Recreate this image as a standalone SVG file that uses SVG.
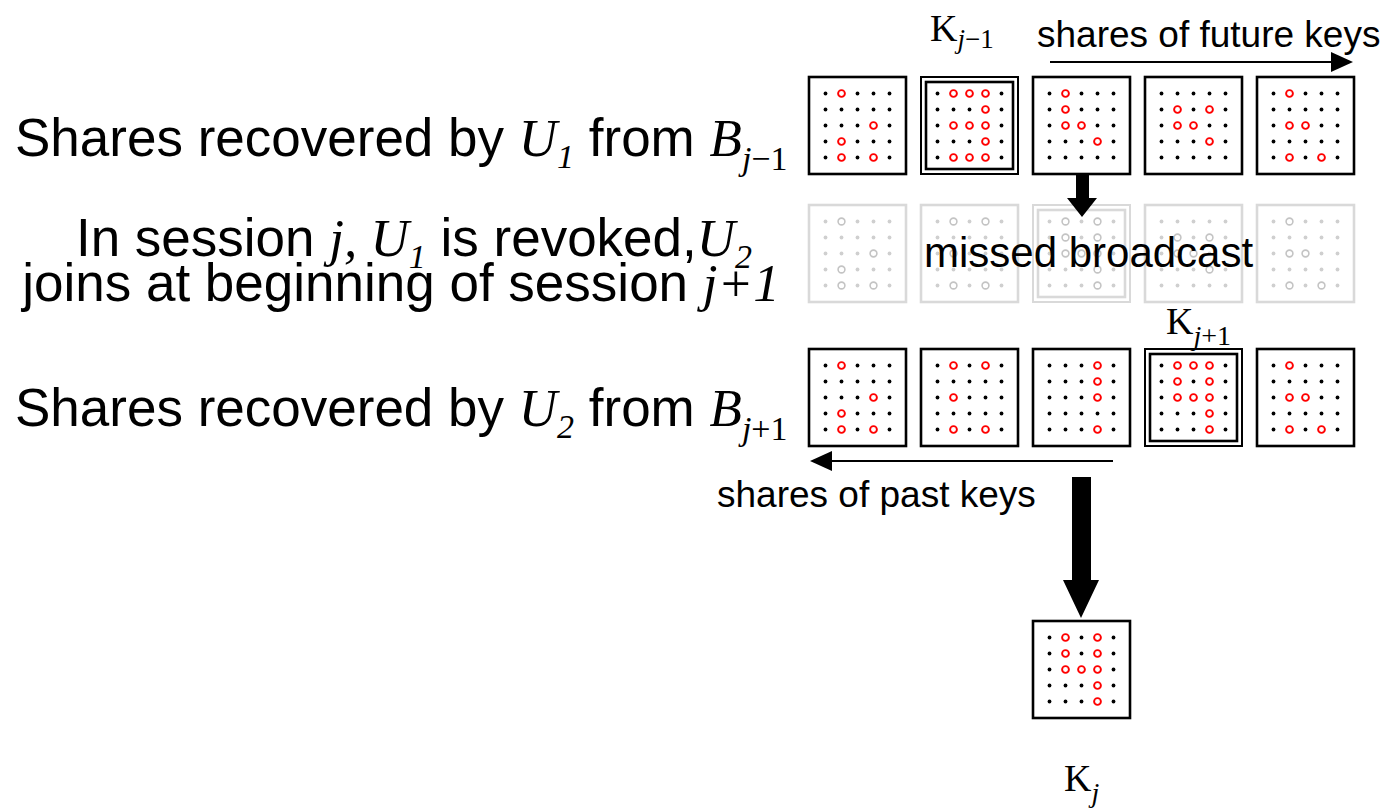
<svg xmlns="http://www.w3.org/2000/svg" xmlns:xlink="http://www.w3.org/1999/xlink" width="1385" height="808" viewBox="0 0 1385 808">
<style>
  .bg{fill:#fff}
  .box{fill:#fff;stroke:#000;stroke-width:2.6}
  .box2{fill:none;stroke:#000;stroke-width:2}
  .gbox{fill:#fff;stroke:#d9d9d9;stroke-width:2.6}
  .gbox2{fill:none;stroke:#d9d9d9;stroke-width:2}
  .rc{fill:#fff;stroke:#f00;stroke-width:1.9}
  .gc{fill:#fff;stroke:#c4c4c4;stroke-width:1.6}
  .sans{font-family:"Liberation Sans",Arial,sans-serif;fill:#000}
  .ser{font-family:"Liberation Serif","Times New Roman",serif}
  .it{font-style:italic}
  .line{stroke:#000;stroke-width:2;fill:none}
</style>
<defs>
  <g id="dots">
    <circle cx="16.5" cy="16.5" r="1.9"/><circle cx="32.5" cy="16.5" r="1.9"/><circle cx="48.5" cy="16.5" r="1.9"/><circle cx="64.5" cy="16.5" r="1.9"/><circle cx="80.5" cy="16.5" r="1.9"/>
    <circle cx="16.5" cy="32.5" r="1.9"/><circle cx="32.5" cy="32.5" r="1.9"/><circle cx="48.5" cy="32.5" r="1.9"/><circle cx="64.5" cy="32.5" r="1.9"/><circle cx="80.5" cy="32.5" r="1.9"/>
    <circle cx="16.5" cy="48.5" r="1.9"/><circle cx="32.5" cy="48.5" r="1.9"/><circle cx="48.5" cy="48.5" r="1.9"/><circle cx="64.5" cy="48.5" r="1.9"/><circle cx="80.5" cy="48.5" r="1.9"/>
    <circle cx="16.5" cy="64.5" r="1.9"/><circle cx="32.5" cy="64.5" r="1.9"/><circle cx="48.5" cy="64.5" r="1.9"/><circle cx="64.5" cy="64.5" r="1.9"/><circle cx="80.5" cy="64.5" r="1.9"/>
    <circle cx="16.5" cy="80.5" r="1.9"/><circle cx="32.5" cy="80.5" r="1.9"/><circle cx="48.5" cy="80.5" r="1.9"/><circle cx="64.5" cy="80.5" r="1.9"/><circle cx="80.5" cy="80.5" r="1.9"/>
  </g>
  <!-- share patterns: hollow circles mark recovered shares -->
  <g id="pA"><circle cx="32.5" cy="16.5" r="3.4"/><circle cx="64.5" cy="48.5" r="3.4"/><circle cx="32.5" cy="64.5" r="3.4"/><circle cx="32.5" cy="80.5" r="3.4"/><circle cx="64.5" cy="80.5" r="3.4"/></g>
  <g id="pKj1"><circle cx="32.5" cy="16.5" r="3.4"/><circle cx="48.5" cy="16.5" r="3.4"/><circle cx="64.5" cy="16.5" r="3.4"/><circle cx="64.5" cy="32.5" r="3.4"/><circle cx="32.5" cy="48.5" r="3.4"/><circle cx="48.5" cy="48.5" r="3.4"/><circle cx="64.5" cy="48.5" r="3.4"/><circle cx="64.5" cy="64.5" r="3.4"/><circle cx="32.5" cy="80.5" r="3.4"/><circle cx="48.5" cy="80.5" r="3.4"/><circle cx="64.5" cy="80.5" r="3.4"/></g>
  <g id="pC"><circle cx="32.5" cy="16.5" r="3.4"/><circle cx="32.5" cy="32.5" r="3.4"/><circle cx="32.5" cy="48.5" r="3.4"/><circle cx="48.5" cy="48.5" r="3.4"/><circle cx="64.5" cy="64.5" r="3.4"/></g>
  <g id="pD"><circle cx="32.5" cy="32.5" r="3.4"/><circle cx="64.5" cy="32.5" r="3.4"/><circle cx="32.5" cy="48.5" r="3.4"/><circle cx="48.5" cy="48.5" r="3.4"/><circle cx="64.5" cy="64.5" r="3.4"/></g>
  <g id="pE"><circle cx="32.5" cy="16.5" r="3.4"/><circle cx="32.5" cy="48.5" r="3.4"/><circle cx="48.5" cy="48.5" r="3.4"/><circle cx="32.5" cy="80.5" r="3.4"/><circle cx="64.5" cy="80.5" r="3.4"/></g>
  <g id="pF"><circle cx="32.5" cy="16.5" r="3.4"/><circle cx="64.5" cy="16.5" r="3.4"/><circle cx="32.5" cy="48.5" r="3.4"/><circle cx="32.5" cy="80.5" r="3.4"/><circle cx="64.5" cy="80.5" r="3.4"/></g>
  <g id="pG"><circle cx="64.5" cy="16.5" r="3.4"/><circle cx="64.5" cy="32.5" r="3.4"/><circle cx="64.5" cy="48.5" r="3.4"/><circle cx="64.5" cy="80.5" r="3.4"/></g>
  <g id="pKjp1"><circle cx="32.5" cy="16.5" r="3.4"/><circle cx="48.5" cy="16.5" r="3.4"/><circle cx="64.5" cy="16.5" r="3.4"/><circle cx="32.5" cy="32.5" r="3.4"/><circle cx="64.5" cy="32.5" r="3.4"/><circle cx="32.5" cy="48.5" r="3.4"/><circle cx="48.5" cy="48.5" r="3.4"/><circle cx="64.5" cy="48.5" r="3.4"/><circle cx="64.5" cy="64.5" r="3.4"/><circle cx="64.5" cy="80.5" r="3.4"/></g>
  <g id="pKj"><circle cx="32.5" cy="16.5" r="3.4"/><circle cx="64.5" cy="16.5" r="3.4"/><circle cx="32.5" cy="32.5" r="3.4"/><circle cx="64.5" cy="32.5" r="3.4"/><circle cx="32.5" cy="48.5" r="3.4"/><circle cx="48.5" cy="48.5" r="3.4"/><circle cx="64.5" cy="48.5" r="3.4"/><circle cx="64.5" cy="64.5" r="3.4"/><circle cx="64.5" cy="80.5" r="3.4"/></g>
</defs>

<rect class="bg" x="0" y="0" width="1385" height="808"/>

<!-- row labels -->
<g id="label-u1" class="sans" font-size="53">
  <text x="15" y="156">Shares recovered by <tspan class="ser it">U</tspan><tspan class="ser it" font-size="34" dy="12">1</tspan><tspan dy="-12"> from </tspan><tspan class="ser it">B</tspan><tspan class="ser" font-size="34" dy="14"><tspan class="it">j</tspan>−1</tspan></text>
</g>
<g id="label-session" class="sans" font-size="53" text-anchor="middle">
  <text x="414" y="256">In session <tspan class="ser it">j, U</tspan><tspan class="ser it" font-size="34" dy="12">1</tspan><tspan dy="-12"> is revoked,</tspan><tspan class="ser it">U</tspan><tspan class="ser it" font-size="34" dy="12">2</tspan></text>
  <text x="401" y="301">joins at beginning of session <tspan class="ser it">j+1</tspan></text>
</g>
<g id="label-u2" class="sans" font-size="53">
  <text x="15" y="426">Shares recovered by <tspan class="ser it">U</tspan><tspan class="ser it" font-size="34" dy="12">2</tspan><tspan dy="-12"> from </tspan><tspan class="ser it">B</tspan><tspan class="ser" font-size="34" dy="14"><tspan class="it">j</tspan>+1</tspan></text>
</g>

<!-- broadcast B_{j-1} as recovered by U1 -->
<g id="row-top">
  <g id="t1" transform="translate(809,77)"><rect class="box" width="97" height="97"/><use xlink:href="#dots"/><use xlink:href="#pA" class="rc"/></g>
  <g id="t2" transform="translate(921,77)"><rect class="box2" width="97" height="97"/><rect class="box" x="5" y="5" width="87" height="87"/><use xlink:href="#dots"/><use xlink:href="#pKj1" class="rc"/></g>
  <g id="t3" transform="translate(1033,77)"><rect class="box" width="97" height="97"/><use xlink:href="#dots"/><use xlink:href="#pC" class="rc"/></g>
  <g id="t4" transform="translate(1145,77)"><rect class="box" width="97" height="97"/><use xlink:href="#dots"/><use xlink:href="#pD" class="rc"/></g>
  <g id="t5" transform="translate(1257,77)"><rect class="box" width="97" height="97"/><use xlink:href="#dots"/><use xlink:href="#pE" class="rc"/></g>
</g>

<!-- broadcast B_j, missed -->
<g id="row-mid" fill="#cfcfcf">
  <g id="m1" transform="translate(809,205)"><rect class="gbox" width="97" height="97"/><use xlink:href="#dots"/><use xlink:href="#pA" class="gc"/></g>
  <g id="m2" transform="translate(921,205)"><rect class="gbox" width="97" height="97"/><use xlink:href="#dots"/><use xlink:href="#pF" class="gc"/></g>
  <g id="m3" transform="translate(1033,205)"><rect class="gbox2" width="97" height="97"/><rect class="gbox" x="5" y="5" width="87" height="87"/><use xlink:href="#dots"/><use xlink:href="#pKj" class="gc"/></g>
  <g id="m4" transform="translate(1145,205)"><rect class="gbox" width="97" height="97"/><use xlink:href="#dots"/><use xlink:href="#pD" class="gc"/></g>
  <g id="m5" transform="translate(1257,205)"><rect class="gbox" width="97" height="97"/><use xlink:href="#dots"/><use xlink:href="#pE" class="gc"/></g>
</g>

<!-- broadcast B_{j+1} as recovered by U2 -->
<g id="row-bottom">
  <g id="b1" transform="translate(809,349)"><rect class="box" width="97" height="97"/><use xlink:href="#dots"/><use xlink:href="#pA" class="rc"/></g>
  <g id="b2" transform="translate(921,349)"><rect class="box" width="97" height="97"/><use xlink:href="#dots"/><use xlink:href="#pF" class="rc"/></g>
  <g id="b3" transform="translate(1033,349)"><rect class="box" width="97" height="97"/><use xlink:href="#dots"/><use xlink:href="#pG" class="rc"/></g>
  <g id="b4" transform="translate(1145,349)"><rect class="box2" width="97" height="97"/><rect class="box" x="5" y="5" width="87" height="87"/><use xlink:href="#dots"/><use xlink:href="#pKjp1" class="rc"/></g>
  <g id="b5" transform="translate(1257,349)"><rect class="box" width="97" height="97"/><use xlink:href="#dots"/><use xlink:href="#pE" class="rc"/></g>
</g>

<!-- combined key K_j -->
<g id="kj">
  <g transform="translate(1033,621)"><rect class="box" width="97" height="97"/><use xlink:href="#dots"/><use xlink:href="#pKj" class="rc"/></g>
</g>

<!-- key labels -->
<g id="key-labels" class="ser" fill="#000">
  <text x="930" y="41" font-size="38">K<tspan font-size="27" dy="7"><tspan class="it">j</tspan>−1</tspan></text>
  <text x="1166" y="334" font-size="38">K<tspan font-size="28" dy="11"><tspan class="it">j</tspan>+1</tspan></text>
  <text x="1064" y="791" font-size="38">K<tspan font-size="28" dy="11" class="it">j</tspan></text>
</g>

<!-- connectors -->
<g id="connectors">
  <line class="line" x1="1050" y1="62" x2="1333" y2="62"/>
  <polygon points="1331,52 1353,62 1331,72"/>
  <line class="line" x1="1113" y1="461" x2="830" y2="461"/>
  <polygon points="832,451 810,461 832,471"/>
  <polygon points="1076,173 1089,173 1089,198 1097,198 1082,217 1067,198 1076,198"/>
  <polygon points="1072,477 1091,477 1091,580 1099,580 1081,618 1063,580 1072,580"/>
</g>

<g id="arrow-labels" class="sans">
  <text x="1037" y="47" font-size="37">shares of future keys</text>
  <text x="717" y="507" font-size="37">shares of past keys</text>
  <text x="924" y="267" font-size="42">missed broadcast</text>
</g>
</svg>
